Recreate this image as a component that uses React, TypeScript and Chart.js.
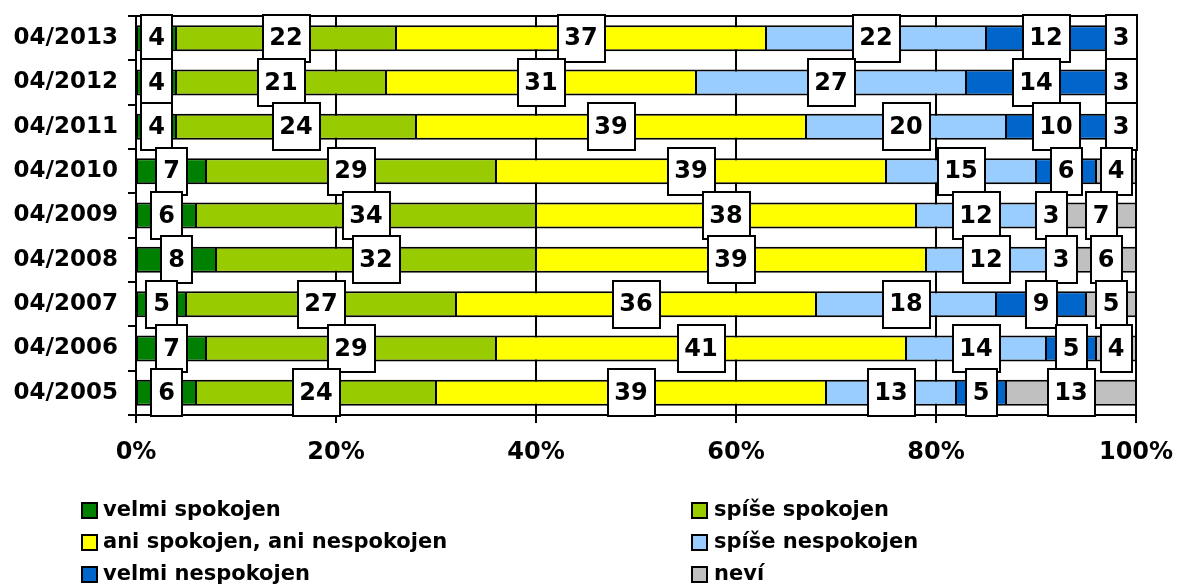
import React, { useEffect, useRef } from 'react';
import { Chart, registerables } from 'chart.js';

Chart.register(...registerables);

const categories = ['04/2013', '04/2012', '04/2011', '04/2010', '04/2009', '04/2008', '04/2007', '04/2006', '04/2005'];
const velmiSpokojen = [4, 4, 4, 7, 6, 8, 5, 7, 6];
const spiseSpokojen = [22, 21, 24, 29, 34, 32, 27, 29, 24];
const aniSpokojenAniNespokojen = [37, 31, 39, 39, 38, 39, 36, 41, 39];
const spiseNespokojen = [22, 27, 20, 15, 12, 12, 18, 14, 13];
const velmiNespokojen = [12, 14, 10, 6, 3, 3, 9, 5, 5];
const nevi = [3, 3, 3, 4, 7, 6, 5, 4, 13];

const seriesNames = [
  'velmi spokojen',
  'spíše spokojen',
  'ani spokojen, ani nespokojen',
  'spíše nespokojen',
  'velmi nespokojen',
  'neví',
];
const seriesValues = [velmiSpokojen, spiseSpokojen, aniSpokojenAniNespokojen, spiseNespokojen, velmiNespokojen, nevi];
const seriesColors = ['#008000', '#99CC00', '#FFFF00', '#99CCFF', '#0066CC', '#C0C0C0'];
const xTickStep = 20;
const xMin = 0;
const xMax = 100;

const FONT = "'DejaVu Sans', Verdana, sans-serif";

const topLinePlugin = {
  id: 'topLine',
  beforeDatasetsDraw(chart: any) {
    const { ctx, chartArea } = chart;
    ctx.save();
    ctx.strokeStyle = '#000';
    ctx.lineWidth = 2;
    ctx.beginPath();
    ctx.moveTo(chartArea.left - 8, chartArea.top);
    ctx.lineTo(chartArea.right, chartArea.top);
    ctx.stroke();
    ctx.restore();
  },
};

const boxLabelsPlugin = {
  id: 'boxLabels',
  afterDatasetsDraw(chart: any) {
    const { ctx } = chart;
    ctx.save();
    ctx.font = `bold 24px ${FONT}`;
    ctx.textAlign = 'center';
    ctx.textBaseline = 'middle';
    chart.data.datasets.forEach((ds: any, i: number) => {
      const meta = chart.getDatasetMeta(i);
      meta.data.forEach((el: any, j: number) => {
        const v = ds.data[j];
        if (!v) return;
        const p = el.getCenterPoint();
        const text = String(v);
        const w = Math.round(ctx.measureText(text).width + 14);
        const h = 47;
        const x0 = Math.round(p.x - w / 2);
        const y0 = Math.round(p.y - h / 2);
        ctx.fillStyle = '#fff';
        ctx.fillRect(x0, y0, w, h);
        ctx.strokeStyle = '#000';
        ctx.lineWidth = 2;
        ctx.strokeRect(x0, y0, w, h);
        ctx.fillStyle = '#000';
        ctx.fillText(text, p.x, p.y + 1);
      });
    });
    ctx.restore();
  },
};

const customLegendPlugin = {
  id: 'customLegend',
  afterDraw(chart: any) {
    const { ctx } = chart;
    const colBox = [82, 692];
    const colText = [103, 714];
    const rowY = [511, 543, 575];
    ctx.save();
    ctx.font = `bold 21px ${FONT}`;
    ctx.textAlign = 'left';
    ctx.textBaseline = 'middle';
    chart.data.datasets.forEach((ds: any, i: number) => {
      const col = i % 2;
      const row = Math.floor(i / 2);
      const y = rowY[row];
      ctx.fillStyle = ds.backgroundColor;
      ctx.fillRect(colBox[col], y - 8, 15, 15);
      ctx.strokeStyle = '#000';
      ctx.lineWidth = 2;
      ctx.strokeRect(colBox[col], y - 8, 15, 15);
      ctx.fillStyle = '#000';
      ctx.fillText(ds.label, colText[col], y);
    });
    ctx.restore();
  },
};

export default function App() {
  const canvasRef = useRef<HTMLCanvasElement | null>(null);

  useEffect(() => {
    document.body.style.margin = '0';
    const canvas = canvasRef.current;
    if (!canvas) return;
    const chart = new Chart(canvas, {
      type: 'bar',
      data: {
        labels: categories,
        datasets: seriesNames.map((name, i) => ({
          label: name,
          data: seriesValues[i],
          backgroundColor: seriesColors[i],
          borderColor: '#000',
          borderWidth: { top: 2, bottom: 2, left: 1, right: 1 },
          borderSkipped: false,
          barPercentage: 0.585,
          categoryPercentage: 1,
        })),
      },
      options: {
        indexAxis: 'y',
        animation: false,
        responsive: false,
        maintainAspectRatio: false,
        layout: { padding: { top: 16, right: 42, left: 0, bottom: 0 } },
        plugins: {
          legend: { display: false },
          tooltip: { enabled: false },
        },
        scales: {
          x: {
            type: 'linear',
            stacked: true,
            min: xMin,
            max: xMax,
            position: 'bottom',
            ticks: {
              stepSize: xTickStep,
              callback: (v: any) => `${v}%`,
              color: '#000',
              font: { family: FONT, size: 24, weight: 'bold' },
              padding: 15,
            },
            grid: {
              color: '#000',
              lineWidth: 2,
              tickLength: 8,
              drawTicks: true,
            },
            border: { display: true, color: '#000', width: 2 },
            afterFit: (s: any) => {
              s.height = 173;
              s.paddingLeft = 0;
              s.paddingRight = 0;
            },
          },
          y: {
            type: 'category',
            stacked: true,
            ticks: {
              color: '#000',
              font: { family: FONT, size: 23, weight: 'bold' },
              padding: 10,
            },
            grid: {
              drawOnChartArea: false,
              offset: true,
              color: '#000',
              lineWidth: 2,
              tickLength: 8,
            },
            border: { display: true, color: '#000', width: 2 },
            afterFit: (s: any) => {
              s.width = 136;
              s.paddingTop = 0;
              s.paddingBottom = 0;
            },
          },
        },
      } as any,
      plugins: [topLinePlugin, boxLabelsPlugin, customLegendPlugin],
    });
    return () => chart.destroy();
  }, []);

  return (
    <div style={{ position: 'absolute', left: 0, top: 0, width: 1178, height: 588, background: '#fff' }}>
      <canvas ref={canvasRef} width={1178} height={588} style={{ display: 'block', width: 1178, height: 588 }} />
    </div>
  );
}
